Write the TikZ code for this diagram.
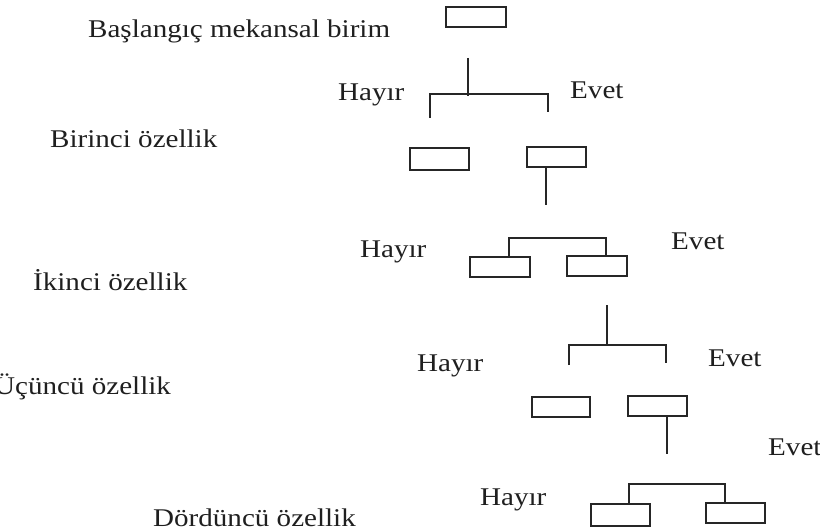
\documentclass[tikz,border=0pt]{standalone}
\usepackage{fontspec}
\setmainfont{Liberation Serif}[FakeStretch=1.14]
\begin{document}
\begin{tikzpicture}[x=1pt,y=-1pt,
  ln/.style={draw=black!85,line width=1.3pt},
  box/.style={draw=black!85,line width=1.3pt,inner sep=0pt,outer sep=0pt,rectangle},
  lbl/.style={anchor=base west,inner sep=0pt,text=black!88,font=\fontsize{25.5}{30}\selectfont}]
\useasboundingbox (0,0) rectangle (820,532);
% text labels
\node[lbl] (t0) at (88,38) {Başlangıç mekansal birim};
\node[lbl] (h1) at (338,101) {Hayır};
\node[lbl] (e1) at (570,99) {Evet};
\node[lbl] (t1) at (50,148) {Birinci özellik};
\node[lbl] (h2) at (360,258) {Hayır};
\node[lbl] (e2) at (671,249) {Evet};
\node[lbl] (t2) at (33,290) {İkinci özellik};
\node[lbl] (h3) at (417,371) {Hayır};
\node[lbl] (e3) at (708,366) {Evet};
\node[lbl] (t3) at (-6,394) {Üçüncü özellik};
\node[lbl] (e4) at (768,455) {Evet};
\node[lbl] (h4) at (480,505) {Hayır};
\node[lbl] (t4) at (153,526) {Dördüncü özellik};
% boxes
\node[box,minimum width=60pt,minimum height=20pt] (b0) at (476,17) {};
\node[box,minimum width=59pt,minimum height=22pt] (b1L) at (439.5,159) {};
\node[box,minimum width=59pt,minimum height=20pt] (b1R) at (556.5,157) {};
\node[box,minimum width=60pt,minimum height=20pt] (b2L) at (500,267) {};
\node[box,minimum width=60pt,minimum height=20pt] (b2R) at (597,266) {};
\node[box,minimum width=58pt,minimum height=20pt] (b3L) at (561,407) {};
\node[box,minimum width=59pt,minimum height=20pt] (b3R) at (657.5,406) {};
\node[box,minimum width=59pt,minimum height=22pt] (b4L) at (620.5,515) {};
\node[box,minimum width=59pt,minimum height=20pt] (b4R) at (735.5,513) {};
% free connector ends
\coordinate (s1t) at (468,58);
\coordinate (s1b) at (468,96);
\coordinate (c1l) at (430,94);
\coordinate (c1r) at (548,94);
\coordinate (d1l) at (430,118);
\coordinate (d1r) at (548,112);
\coordinate (s2) at (546,205);
\coordinate (c2l) at (509,238);
\coordinate (c2r) at (606,238);
\coordinate (s3t) at (607,305);
\coordinate (s3b) at (607,345);
\coordinate (c3l) at (569,345);
\coordinate (c3r) at (666,345);
\coordinate (d3l) at (569,365);
\coordinate (d3r) at (666,363);
\coordinate (s4) at (667,454);
\coordinate (c4l) at (629,484);
\coordinate (c4r) at (725,484);
% connectors
\draw[ln] (s1t) -- (s1b);
\draw[ln] (d1l) -- (c1l) -- (c1r) -- (d1r);
\draw[ln] (b1R.south -| s2) -- (s2);
\draw[ln] (b2L.north -| c2l) -- (c2l) -- (c2r) -- (b2R.north -| c2r);
\draw[ln] (s3t) -- (s3b);
\draw[ln] (d3l) -- (c3l) -- (c3r) -- (d3r);
\draw[ln] (b3R.south -| s4) -- (s4);
\draw[ln] (b4L.north -| c4l) -- (c4l) -- (c4r) -- (b4R.north -| c4r);
\end{tikzpicture}
\end{document}
